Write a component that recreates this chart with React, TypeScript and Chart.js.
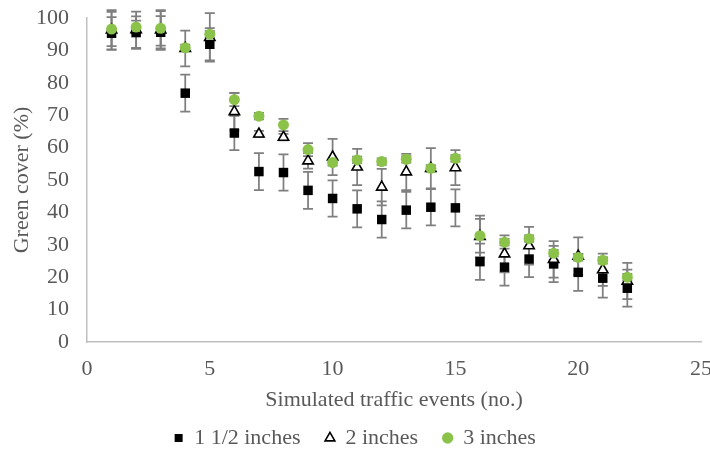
import React, { useEffect, useRef } from 'react';
import { Chart, registerables } from 'chart.js';

Chart.register(...registerables);

const events = [1, 2, 3, 4, 5, 6, 7, 8, 9, 10, 11, 12, 13, 14, 15, 16, 17, 18, 19, 20, 21, 22];

const labelSmall = '1 1/2 inches';
const labelMid = '2 inches';
const labelLarge = '3 inches';

const coverSmall = [95.3, 95.5, 95.6, 76.8, 91.9, 64.5, 52.6, 52.3, 46.8, 44.3, 41.1, 37.8, 40.7, 41.6, 41.4, 24.8, 23.1, 25.6, 24.1, 21.5, 19.7, 16.6];
const errSmall = [5.0, 5.0, 5.0, 5.7, 5.0, 5.3, 5.7, 5.6, 5.7, 5.6, 5.7, 5.6, 5.6, 5.6, 5.7, 5.6, 5.7, 5.6, 5.6, 5.7, 6.0, 5.7];

const coverMid = [96.3, 96.4, 96.3, 90.6, 94.0, 71.1, 64.2, 63.2, 55.9, 57.1, 54.0, 47.8, 52.5, 53.6, 53.8, 32.6, 27.2, 29.7, 25.5, 26.5, 22.3, 18.8];
const errMid = [6.1, 5.6, 6.1, 5.5, 7.5, 5.8, 1.0, 1.0, 2.4, 5.6, 5.6, 5.6, 5.6, 6.2, 5.4, 6.4, 5.7, 5.8, 5.6, 5.8, 5.0, 5.6];

const coverLarge = [96.6, 97.2, 96.8, 90.8, 95.0, 74.8, 69.7, 67.0, 59.4, 55.4, 56.2, 55.7, 56.4, 53.6, 56.7, 32.8, 30.8, 31.9, 27.4, 26.1, 25.2, 20.0];
const errLarge = [5.3, 2.0, 5.3, 1.0, 1.0, 2.0, 1.0, 1.9, 2.0, 1.0, 1.0, 1.0, 1.0, 1.0, 1.0, 5.2, 1.0, 1.0, 1.0, 1.0, 1.0, 1.0];

const yTicks = [0, 10, 20, 30, 40, 50, 60, 70, 80, 90, 100];
const xTicks = [0, 5, 10, 15, 20, 25];

const errorSets = [errSmall, errMid, errLarge];

const TEXT = '#595959';
const GREEN = '#8bc34a';
const FONT = "'Liberation Serif', 'Times New Roman', serif";
const FS = 22;

const errorBarPlugin = {
  id: 'errorBars',
  beforeDatasetsDraw(chart: any) {
    const { ctx } = chart;
    const x = chart.scales.x;
    const y = chart.scales.y;
    ctx.save();
    ctx.strokeStyle = '#7f7f7f';
    ctx.lineWidth = 1.75;
    chart.data.datasets.forEach((ds: any, i: number) => {
      const errs = errorSets[i];
      ds.data.forEach((p: any, j: number) => {
        const e = errs[j];
        const px = x.getPixelForValue(p.x);
        const top = y.getPixelForValue(p.y + e);
        const bot = y.getPixelForValue(p.y - e);
        ctx.beginPath();
        ctx.moveTo(px, top);
        ctx.lineTo(px, bot);
        ctx.moveTo(px - 5, top);
        ctx.lineTo(px + 5, top);
        ctx.moveTo(px - 5, bot);
        ctx.lineTo(px + 5, bot);
        ctx.stroke();
      });
    });
    ctx.restore();
  },
};

export default function App() {
  const ref = useRef<HTMLCanvasElement>(null);

  useEffect(() => {
    if (!ref.current) return;
    const toPts = (vals: number[]) => events.map((e, i) => ({ x: e, y: vals[i] }));
    const chart = new Chart(ref.current, {
      type: 'scatter',
      data: {
        datasets: [
          {
            label: labelSmall,
            data: toPts(coverSmall),
            pointStyle: 'rect',
            pointRadius: 6.7,
            pointBackgroundColor: '#000000',
            pointBorderColor: '#000000',
            pointBorderWidth: 0,
            backgroundColor: '#000000',
            borderColor: '#000000',
            order: 3,
          },
          {
            label: labelMid,
            data: toPts(coverMid),
            pointStyle: 'triangle',
            pointRadius: 6,
            pointBackgroundColor: '#ffffff',
            pointBorderColor: '#000000',
            pointBorderWidth: 1.6,
            backgroundColor: '#ffffff',
            borderColor: '#000000',
            order: 2,
          },
          {
            label: labelLarge,
            data: toPts(coverLarge),
            pointStyle: 'circle',
            pointRadius: 5.5,
            pointBackgroundColor: GREEN,
            pointBorderColor: GREEN,
            pointBorderWidth: 0,
            backgroundColor: GREEN,
            borderColor: GREEN,
            order: 1,
          },
        ],
      },
      options: {
        responsive: false,
        animation: false,
        layout: { padding: { top: 18, right: 0, left: 0, bottom: 6 } },
        plugins: {
          tooltip: { enabled: false },
          legend: {
            position: 'bottom',
            labels: {
              usePointStyle: true,
              boxWidth: 9,
              boxHeight: 8,
              padding: 25,
              color: TEXT,
              font: { family: FONT, size: FS },
              sort: (a: any, b: any) => a.datasetIndex - b.datasetIndex,
            },
          },
        },
        scales: {
          x: {
            type: 'linear',
            min: 0,
            max: 25,
            afterBuildTicks: (s: any) => {
              s.ticks = xTicks.map((v) => ({ value: v }));
            },
            afterFit: (s: any) => {
              s.height = 60;
              s.paddingRight = 9;
              s.paddingLeft = 0;
            },
            grid: { display: false, drawTicks: false },
            border: { display: true, color: '#bfbfbf', width: 1.5 },
            ticks: { color: TEXT, font: { family: FONT, size: FS }, padding: 14 },
            title: {
              display: true,
              text: 'Simulated traffic events (no.)',
              color: TEXT,
              font: { family: FONT, size: FS },
              padding: { top: 0, bottom: -11 },
            },
          },
          y: {
            type: 'linear',
            min: 0,
            max: 100,
            afterBuildTicks: (s: any) => {
              s.ticks = yTicks.map((v) => ({ value: v }));
            },
            afterFit: (s: any) => {
              s.width = 87;
              s.paddingTop = 0;
              s.paddingBottom = 0;
            },
            grid: { display: false, drawTicks: false },
            border: { display: true, color: '#bfbfbf', width: 1.5 },
            ticks: { color: TEXT, font: { family: FONT, size: FS }, padding: 18 },
            title: {
              display: true,
              text: 'Green cover (%)',
              color: TEXT,
              font: { family: FONT, size: FS },
              padding: { top: 9, bottom: 0 },
            },
          },
        },
      },
      plugins: [errorBarPlugin],
    });
    return () => chart.destroy();
  }, []);

  return (
    <div style={{ position: 'absolute', left: 0, top: 0, width: 710, height: 465, background: '#ffffff' }}>
      <canvas ref={ref} width={710} height={465} style={{ display: 'block' }} />
    </div>
  );
}
